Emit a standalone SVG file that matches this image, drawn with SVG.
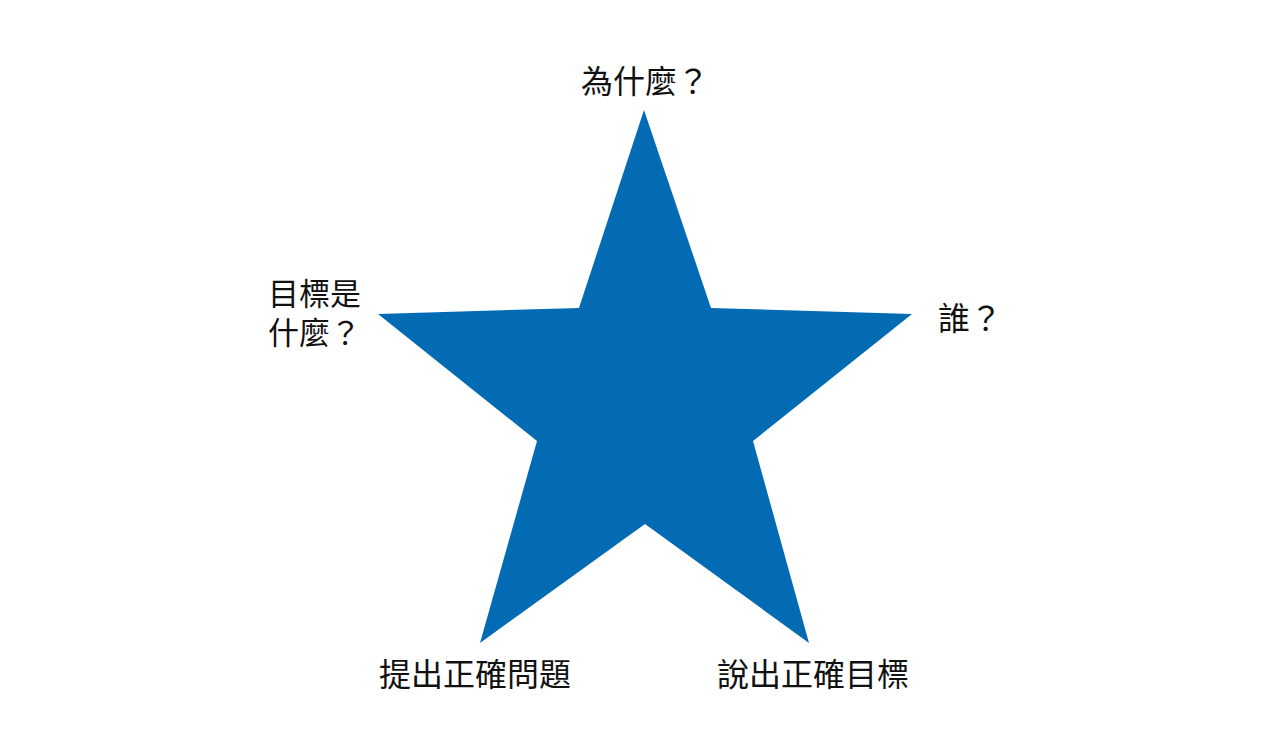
<svg xmlns="http://www.w3.org/2000/svg" width="1280" height="747" viewBox="0 0 1280 747">
<style>
.t{font-family:"Noto Sans CJK TC","Noto Sans CJK SC",sans-serif;font-size:32px;fill:#111;}
.s{font-size:31px;}
</style>
<rect width="1280" height="747" fill="#fff"/>
<g id="star">
<polygon points="644,110 711,308 912,314 753,441 809,643 645,524 480,643 537,441 378,314 579,308" fill="#036BB4"/>
</g>
<g id="top"><text class="t" x="581" y="93">為什麼？</text></g>
<g id="left"><text class="t s"><tspan x="268" y="305">目標是</tspan><tspan x="268" y="344">什麼？</tspan></text></g>
<g id="right"><text class="t" x="938" y="330">誰？</text></g>
<g id="bl"><text class="t" x="379" y="686">提出正確問題</text></g>
<g id="br"><text class="t" x="717" y="686">說出正確目標</text></g>
<g id="connectors"></g>
</svg>
